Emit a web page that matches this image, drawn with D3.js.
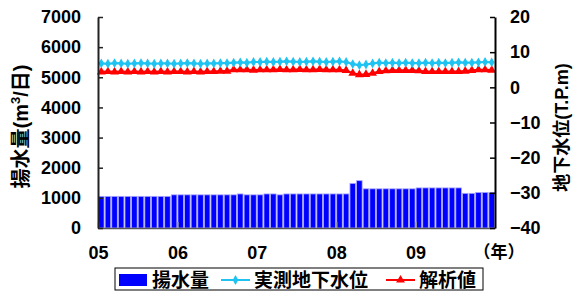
<!DOCTYPE html>
<html>
<head>
<meta charset="utf-8">
<script src="https://cdn.jsdelivr.net/npm/d3@7"></script>
<style>
  body { margin: 0; background: #fff; }
  svg { display: block; font-family: "Liberation Sans", "Noto Sans CJK JP", sans-serif; font-weight: bold; }
</style>
</head>
<body>
<div id="chart"></div>
<script>
// year labels on the x axis (one label every 12 months)
var years = ["05", "06", "07", "08", "09"];

// pumping volume, m3/day, one bar per month 2005-01 .. 2009-12
var pumping = [
  1050, 1050, 1050, 1050, 1050, 1050, 1050, 1050, 1050, 1050, 1050, 1100,
  1100, 1100, 1100, 1100, 1100, 1100, 1100, 1100, 1100, 1130, 1100, 1100,
  1100, 1130, 1130, 1100, 1130, 1130, 1130, 1130, 1130, 1130, 1130, 1130,
  1130, 1130, 1480, 1570, 1300, 1300, 1300, 1300, 1300, 1300, 1300, 1300,
  1330, 1330, 1330, 1330, 1330, 1330, 1330, 1150, 1150, 1180, 1180, 1180
];

// measured groundwater level, T.P.m
var measured = [
  6.8, 6.7, 6.9, 6.8, 6.7, 6.8, 6.9, 6.8, 6.7, 6.8, 6.8, 6.7,
  6.8, 6.9, 6.8, 6.7, 6.8, 6.8, 6.9, 6.9, 7.0, 7.1, 7.0, 7.2,
  7.2, 7.3, 7.2, 7.3, 7.4, 7.3, 7.2, 7.3, 7.4, 7.3, 7.2, 7.3,
  7.4, 7.2, 6.6, 6.3, 6.5, 6.8, 7.0, 6.9, 7.0, 6.9, 7.0, 6.9,
  6.9, 7.0, 6.9, 7.0, 6.9, 7.0, 7.1, 7.0, 7.0, 7.1, 7.2, 7.1
];

// simulated groundwater level, T.P.m
var simulated = [
  4.4, 4.5, 4.4, 4.5, 4.4, 4.5, 4.4, 4.5, 4.4, 4.5, 4.4, 4.5,
  4.5, 4.4, 4.5, 4.4, 4.5, 4.5, 4.6, 4.6, 5.0, 5.0, 5.0, 4.9,
  5.0, 5.0, 5.0, 5.1, 5.0, 5.0, 5.1, 5.0, 5.0, 5.1, 5.0, 5.0,
  5.0, 4.8, 4.0, 3.6, 3.7, 4.0, 4.5, 4.7, 4.8, 4.8, 4.8, 4.8,
  4.7, 4.5, 4.5, 4.5, 4.5, 4.5, 4.5, 4.6, 4.8, 5.0, 5.0, 4.9
];

var leftTicks = [0, 1000, 2000, 3000, 4000, 5000, 6000, 7000];
var rightTicks = [-40, -30, -20, -10, 0, 10, 20];

var W = 577, H = 291;
var plot = { left: 98, right: 495, top: 17, bottom: 228 };

var svg = d3.select("#chart").append("svg")
    .attr("width", W)
    .attr("height", H);

// scales
var x = d3.scaleBand()
    .domain(d3.range(pumping.length))
    .range([plot.left, plot.right])
    .paddingInner(0.16)
    .paddingOuter(0.08);
var xm = d3.scaleLinear()
    .domain([0, pumping.length])
    .range([plot.left, plot.right]);
var yL = d3.scaleLinear().domain([0, 7000]).range([plot.bottom, plot.top]);
var yR = d3.scaleLinear().domain([-40, 20]).range([plot.bottom, plot.top]);

// bars
svg.append("g").selectAll("rect")
    .data(pumping)
    .enter().append("rect")
    .attr("x", function (d, i) { return x(i); })
    .attr("width", x.bandwidth())
    .attr("y", function (d) { return yL(d); })
    .attr("height", function (d) { return plot.bottom - yL(d); })
    .attr("fill", "#0000ff")
    .attr("stroke", "#a8a8ff")
    .attr("stroke-width", 0.8);

// lines
function cx(d, i) { return xm(i + 0.5); }

var line = d3.line().x(cx).y(function (d) { return yR(d); });

svg.append("path")
    .datum(simulated)
    .attr("d", line)
    .attr("fill", "none")
    .attr("stroke", "#ff0000")
    .attr("stroke-width", 2.2);

svg.append("path")
    .datum(measured)
    .attr("d", line)
    .attr("fill", "none")
    .attr("stroke", "#1ec3f2")
    .attr("stroke-width", 2.2);

var tri = d3.symbol().type(d3.symbolTriangle).size(34);
var dia = d3.symbol().type(d3.symbolDiamond).size(28);

svg.append("g").selectAll("path")
    .data(simulated)
    .enter().append("path")
    .attr("d", tri)
    .attr("transform", function (d, i) { return "translate(" + cx(d, i) + "," + yR(d) + ")"; })
    .attr("fill", "#ff0000");

svg.append("g").selectAll("path")
    .data(measured)
    .enter().append("path")
    .attr("d", dia)
    .attr("transform", function (d, i) { return "translate(" + cx(d, i) + "," + yR(d) + ")"; })
    .attr("fill", "#1ec3f2");

// x axis
var xAxis = svg.append("g")
    .attr("transform", "translate(0," + plot.bottom + ")")
    .call(d3.axisBottom(xm)
        .tickValues([0, 12, 24, 36, 48])
        .tickFormat(function (d) { return years[d / 12]; })
        .tickSizeInner(-6)
        .tickSizeOuter(0)
        .tickPadding(18));
xAxis.select(".domain").attr("stroke", "#555").attr("stroke-width", 1.5);
xAxis.selectAll(".tick line").attr("stroke", "#999").attr("stroke-width", 1.5);
xAxis.selectAll("text").style("font-size", "18px").attr("fill", "#000");

// left axis
var lAxis = svg.append("g")
    .attr("transform", "translate(" + plot.left + ",0)")
    .call(d3.axisLeft(yL)
        .tickValues(leftTicks)
        .tickFormat(d3.format("d"))
        .tickSizeInner(-5)
        .tickSizeOuter(0)
        .tickPadding(17));
lAxis.select(".domain").attr("stroke", "#222").attr("stroke-width", 2);
lAxis.selectAll(".tick line").attr("stroke", "#222").attr("stroke-width", 1.5);
lAxis.selectAll("text").style("font-size", "18px").attr("fill", "#000");

// right axis
var rAxis = svg.append("g")
    .attr("transform", "translate(" + plot.right + ",0)")
    .call(d3.axisRight(yR)
        .tickValues(rightTicks)
        .tickFormat(function (d) { return d < 0 ? "\u2212" + (-d) : d; })
        .tickSizeInner(-5)
        .tickSizeOuter(0)
        .tickPadding(15));
rAxis.select(".domain").attr("stroke", "#000").attr("stroke-width", 2);
rAxis.selectAll(".tick line").attr("stroke", "#000").attr("stroke-width", 1.5);
rAxis.selectAll("text").style("font-size", "18px").attr("fill", "#000");

// axis titles
var lt = svg.append("text")
    .attr("transform", "translate(28," + ((plot.top + plot.bottom) / 2 + 4) + ") rotate(-90)")
    .attr("text-anchor", "middle")
    .style("font-size", "20px");
lt.append("tspan").text("揚水量(m");
lt.append("tspan").attr("dy", -8).style("font-size", "13px").text("3");
lt.append("tspan").attr("dy", 8).text("/日)");

svg.append("text")
    .attr("transform", "translate(568," + ((plot.top + plot.bottom) / 2 + 5) + ") rotate(-90)")
    .attr("text-anchor", "middle")
    .style("font-size", "18px")
    .text("地下水位(T.P.m)");

svg.append("text")
    .attr("x", 499)
    .attr("y", 258)
    .attr("text-anchor", "middle")
    .style("font-size", "17px")
    .text("（年）");

// legend
var lg = svg.append("g");
lg.append("rect")
    .attr("x", 115).attr("y", 268)
    .attr("width", 368).attr("height", 22)
    .attr("fill", "#fff")
    .attr("stroke", "#000")
    .attr("stroke-width", 1);
lg.append("rect")
    .attr("x", 119).attr("y", 274)
    .attr("width", 28).attr("height", 12)
    .attr("fill", "#0000ff");
lg.append("text").attr("x", 152).attr("y", 287).style("font-size", "19px").text("揚水量");
lg.append("line")
    .attr("x1", 221).attr("x2", 250).attr("y1", 280).attr("y2", 280)
    .attr("stroke", "#1ec3f2").attr("stroke-width", 2);
lg.append("path").attr("d", dia).attr("transform", "translate(235.5,280)").attr("fill", "#1ec3f2");
lg.append("text").attr("x", 254).attr("y", 287).style("font-size", "19px").text("実測地下水位");
lg.append("line")
    .attr("x1", 386).attr("x2", 415).attr("y1", 280).attr("y2", 280)
    .attr("stroke", "#ff0000").attr("stroke-width", 2);
lg.append("path").attr("d", tri).attr("transform", "translate(400.5,280)").attr("fill", "#ff0000");
lg.append("text").attr("x", 419).attr("y", 287).style("font-size", "19px").text("解析値");
</script>
</body>
</html>
